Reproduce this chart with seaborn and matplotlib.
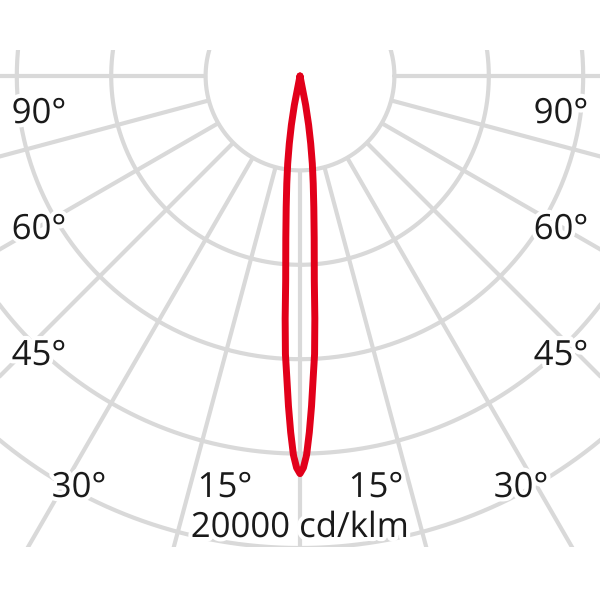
import numpy as np
import pandas as pd
import matplotlib
matplotlib.use("Agg")
import matplotlib.pyplot as plt
import seaborn as sns
from matplotlib import patheffects as pe

# half profile of the beam (symmetric), angle from nadir in degrees
beam_angles = [0, 0.5, 1, 1.5, 2, 2.5, 3, 3.5, 4, 5, 6, 7, 8, 9, 10, 11, 12]
beam_cd = [16850, 16600, 16050, 15100, 14000, 12800, 11800, 10300, 8700,
           6900, 5600, 4600, 3750, 2900, 2100, 1250, 0]

ring_values = [4000, 8000, 12000, 16000, 20000, 24000]
spoke_angles = [-90, -75, -60, -45, -30, -15, 0, 15, 30, 45, 60, 75, 90]

angle_labels = ["90°", "60°", "45°", "30°", "15°", "15°", "30°", "45°", "60°", "90°"]
scale_label = "20000 cd/klm"

GRID = "#d9d9d9"
RED = "#e2001a"
PX = 94.4 / 4000  # pixels per cd/klm

sns.set_style("white")
plt.rcParams["font.family"] = ["Open Sans", "DejaVu Sans"]

fig = plt.figure(figsize=(6, 6), dpi=100)
ax = fig.add_axes([0, 53 / 600, 1, 497 / 600])
ax.set_xlim(-300 / PX, 300 / PX)
ax.set_ylim(-471 / PX, 26 / PX)
ax.axis("off")

t = np.linspace(0, 2 * np.pi, 600)
for r in ring_values:
    ax.plot(r * np.cos(t), r * np.sin(t), color=GRID, lw=3, zorder=1)

r0, r1 = ring_values[0], 40000
for a in spoke_angles:
    rad = np.deg2rad(a)
    ax.plot([r0 * np.sin(rad), r1 * np.sin(rad)],
            [-r0 * np.cos(rad), -r1 * np.cos(rad)],
            color=GRID, lw=3, solid_capstyle="butt", zorder=1)

# mirror the half profile to get the full curve
ang = np.array([-a for a in beam_angles[::-1]] + beam_angles[1:], dtype=float)
cd = np.array(beam_cd[::-1] + beam_cd[1:], dtype=float)
df = pd.DataFrame({"x": cd * np.sin(np.deg2rad(ang)),
                   "y": -cd * np.cos(np.deg2rad(ang))})
sns.lineplot(data=df, x="x", y="y", sort=False, estimator=None,
             color=RED, lw=5, ax=ax, zorder=3)

label_pos = [(39, 123), (39, 239), (39, 365), (79, 497), (225, 497),
             (376, 497), (521, 497), (561, 365), (561, 239), (561, 123)]
halo = [pe.withStroke(linewidth=6, foreground="white")]
for txt, (x, y) in zip(angle_labels, label_pos):
    fig.text(x / 600, 1 - y / 600, txt, ha="center", va="baseline",
             fontsize=25, color="#1a1a1a", path_effects=halo)
fig.text(300 / 600, 1 - 537 / 600, scale_label, ha="center", va="baseline",
         fontsize=25, color="#1a1a1a", path_effects=halo)

fig.savefig("out.png", dpi=100, facecolor="white")
